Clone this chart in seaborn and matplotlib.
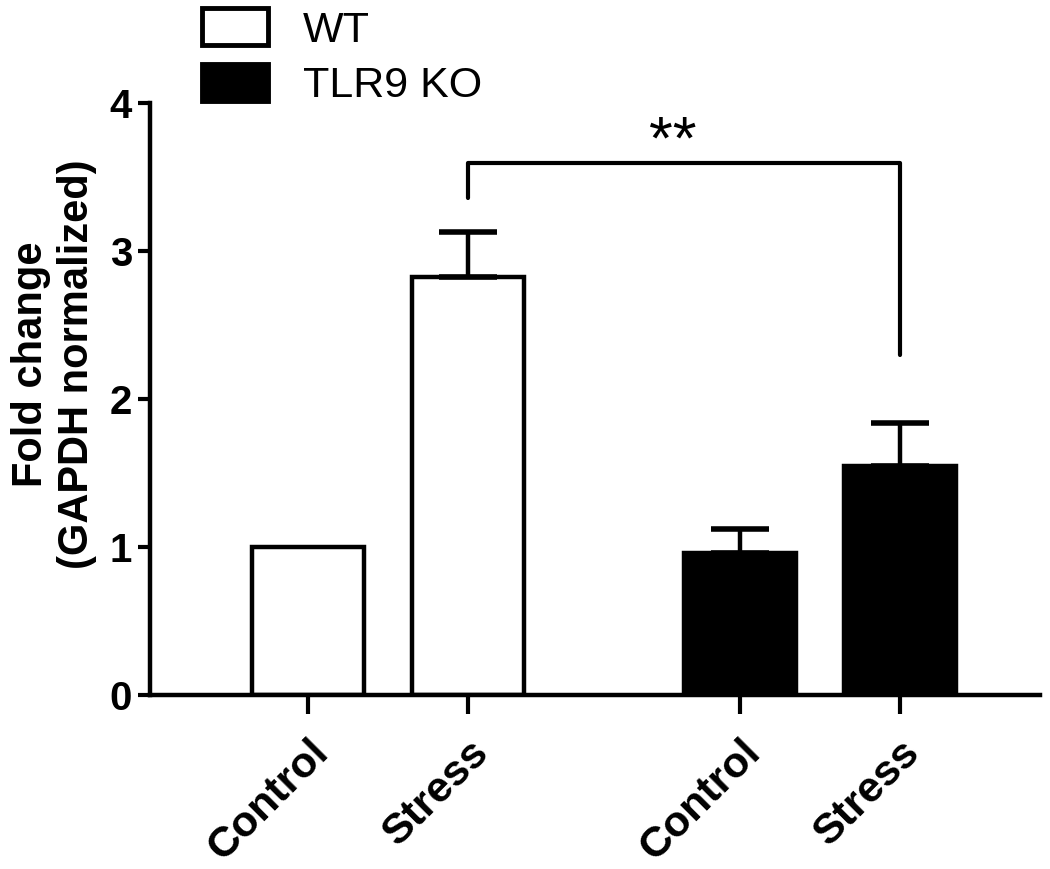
import pandas as pd
import matplotlib.pyplot as plt
import seaborn as sns
from matplotlib.patches import Patch

# ── Data ────────────────────────────────────────────────────────────────
groups = ['WT', 'WT', 'TLR9 KO', 'TLR9 KO']
conditions = ['Control', 'Stress', 'Control', 'Stress']
positions = [0.0, 1.0, 2.7, 3.7]
fold_change = [1.0, 2.83, 0.96, 1.55]
sem = [0.0, 0.30, 0.16, 0.29]

df = pd.DataFrame({'pos': positions, 'value': fold_change, 'group': groups})

sns.set_style('ticks')
plt.rcParams['font.family'] = ['Liberation Sans', 'DejaVu Sans']
plt.rcParams['text.color'] = 'black'
plt.rcParams['xtick.color'] = 'black'
plt.rcParams['ytick.color'] = 'black'
plt.rcParams['axes.edgecolor'] = 'black'
plt.rcParams['axes.labelcolor'] = 'black'

fig = plt.figure(figsize=(10.5, 8.69), dpi=100)
ax = fig.add_axes([0.143, 0.2, 0.847, 0.681])

sns.barplot(data=df, x='pos', y='value', hue='group', native_scale=True,
            palette={'WT': 'white', 'TLR9 KO': 'black'}, dodge=False,
            width=0.7, edgecolor='black', linewidth=3.2, errorbar=None,
            legend=False, ax=ax)

# upper-only SEM bars (WT control is the reference, no bar)
for x, y, e in zip(positions, fold_change, sem):
    if e > 0:
        ax.errorbar(x, y, yerr=[[0], [e]], fmt='none', ecolor='black',
                    elinewidth=3.2, capsize=21, capthick=4)

# significance bracket
ax.plot([1.0, 1.0, 3.7, 3.7], [3.36, 3.6, 3.6, 2.3], color='black', lw=3, clip_on=False)
ax.text(2.28, 3.54, '**', ha='center', va='bottom', fontsize=44)

ax.set_xlim(-0.99, 4.575)
ax.set_ylim(0, 4)
ax.set_yticks([0, 1, 2, 3, 4])
ax.set_xticks(positions)
ax.set_xticklabels(conditions, rotation=45, ha='right', rotation_mode='anchor',
                   fontsize=31, fontweight='bold')
for lbl in ax.get_yticklabels():
    lbl.set_fontsize(29)
    lbl.set_fontweight('bold')
ax.tick_params(axis='x', length=14, width=3, pad=13)
ax.tick_params(axis='y', length=9, width=3, pad=4)
ax.set_xlabel('')
ax.set_ylabel('Fold change\n(GAPDH normalized)', fontsize=30, fontweight='bold')
ax.yaxis.set_label_coords(-0.06, 0.56)

sns.despine(ax=ax)
for side in ['left', 'bottom']:
    ax.spines[side].set_linewidth(3.2)

handles = [Patch(facecolor='white', edgecolor='black', linewidth=3.5),
           Patch(facecolor='black', edgecolor='black', linewidth=3.5)]
fig.legend(handles, ['WT', 'TLR9 KO'], loc='upper left', bbox_to_anchor=(0.155, 1.035),
           frameon=False, fontsize=31, handlelength=1.55, handleheight=0.95,
           handletextpad=0.8, labelspacing=0.3)

plt.savefig('out.png', dpi=100)
